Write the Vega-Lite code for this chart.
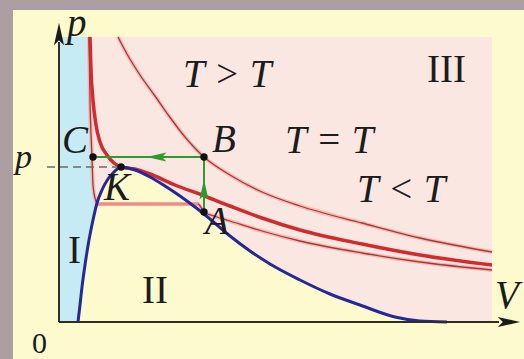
{
  "$schema": "https://vega.github.io/schema/vega-lite/v6.json",
  "width": 524,
  "height": 359,
  "padding": 0,
  "autosize": {"type": "none"},
  "background": "#ad9fa1",
  "config": {"view": {"stroke": null}, "text": {"font": "Liberation Serif", "color": "#1c1c1c"}},
  "datasets": {
    "panel": [{"V": -4.6, "p": 31.2, "V2": 47, "p2": -4}],
    "regions": [
      {"region": "III", "V": 3.0, "p": 11.8},
      {"region": "III", "V": 3.9, "p": 11.9},
      {"region": "III", "V": 4.3, "p": 13.2},
      {"region": "III", "V": 4.9, "p": 14.3},
      {"region": "III", "V": 5.5, "p": 15.0},
      {"region": "III", "V": 6.2, "p": 15.5},
      {"region": "III", "V": 7.6, "p": 15.2},
      {"region": "III", "V": 9.1, "p": 14.5},
      {"region": "III", "V": 10.6, "p": 13.6},
      {"region": "III", "V": 12.1, "p": 12.6},
      {"region": "III", "V": 13.6, "p": 11.5},
      {"region": "III", "V": 15.1, "p": 10.3},
      {"region": "III", "V": 17.1, "p": 8.6},
      {"region": "III", "V": 19.1, "p": 7.1},
      {"region": "III", "V": 21.1, "p": 5.8},
      {"region": "III", "V": 24.1, "p": 4.2},
      {"region": "III", "V": 27.1, "p": 2.8},
      {"region": "III", "V": 30.1, "p": 1.7},
      {"region": "III", "V": 33.6, "p": 0.5},
      {"region": "III", "V": 36.1, "p": 0.1},
      {"region": "III", "V": 38.8, "p": 0},
      {"region": "III", "V": 43.3, "p": 0},
      {"region": "I", "V": 3.0, "p": 28.5},
      {"region": "I", "V": 3.1, "p": 22.2},
      {"region": "I", "V": 3.3, "p": 16.5},
      {"region": "I", "V": 3.4, "p": 13.7},
      {"region": "I", "V": 3.6, "p": 12.4},
      {"region": "I", "V": 3.8, "p": 11.9},
      {"region": "I", "V": 3.4, "p": 10.2},
      {"region": "I", "V": 3.0, "p": 8.2},
      {"region": "I", "V": 2.6, "p": 5.7},
      {"region": "I", "V": 2.3, "p": 3.5},
      {"region": "I", "V": 2.1, "p": 1.7},
      {"region": "I", "V": 1.9, "p": 0}
    ],
    "curves": [
      {"curve": "binodal", "V": 1.9, "p": 0},
      {"curve": "binodal", "V": 2.1, "p": 1.7},
      {"curve": "binodal", "V": 2.3, "p": 3.5},
      {"curve": "binodal", "V": 2.6, "p": 5.7},
      {"curve": "binodal", "V": 3.0, "p": 8.2},
      {"curve": "binodal", "V": 3.4, "p": 10.2},
      {"curve": "binodal", "V": 3.8, "p": 11.9},
      {"curve": "binodal", "V": 4.3, "p": 13.2},
      {"curve": "binodal", "V": 4.9, "p": 14.3},
      {"curve": "binodal", "V": 5.5, "p": 15.0},
      {"curve": "binodal", "V": 6.2, "p": 15.5},
      {"curve": "binodal", "V": 7.6, "p": 15.2},
      {"curve": "binodal", "V": 9.1, "p": 14.5},
      {"curve": "binodal", "V": 10.6, "p": 13.6},
      {"curve": "binodal", "V": 12.1, "p": 12.6},
      {"curve": "binodal", "V": 13.6, "p": 11.5},
      {"curve": "binodal", "V": 15.1, "p": 10.3},
      {"curve": "binodal", "V": 17.1, "p": 8.6},
      {"curve": "binodal", "V": 19.1, "p": 7.1},
      {"curve": "binodal", "V": 21.1, "p": 5.8},
      {"curve": "binodal", "V": 24.1, "p": 4.2},
      {"curve": "binodal", "V": 27.1, "p": 2.8},
      {"curve": "binodal", "V": 30.1, "p": 1.7},
      {"curve": "binodal", "V": 33.6, "p": 0.5},
      {"curve": "binodal", "V": 36.1, "p": 0.1},
      {"curve": "binodal", "V": 38.8, "p": 0},
      {"curve": "critical", "V": 3.1, "p": 28.5},
      {"curve": "critical", "V": 3.2, "p": 25.2},
      {"curve": "critical", "V": 3.4, "p": 22.2},
      {"curve": "critical", "V": 3.7, "p": 19.7},
      {"curve": "critical", "V": 4.1, "p": 18.0},
      {"curve": "critical", "V": 4.8, "p": 16.7},
      {"curve": "critical", "V": 5.5, "p": 15.9},
      {"curve": "critical", "V": 6.2, "p": 15.5},
      {"curve": "critical", "V": 7.6, "p": 15.3},
      {"curve": "critical", "V": 9.1, "p": 14.8},
      {"curve": "critical", "V": 11.6, "p": 13.7},
      {"curve": "critical", "V": 14.3, "p": 12.7},
      {"curve": "critical", "V": 17.1, "p": 11.6},
      {"curve": "critical", "V": 20.3, "p": 10.4},
      {"curve": "critical", "V": 24.1, "p": 9.2},
      {"curve": "critical", "V": 30.3, "p": 7.8},
      {"curve": "critical", "V": 36.1, "p": 6.7},
      {"curve": "critical", "V": 43.3, "p": 5.7},
      {"curve": "hot", "V": 5.9, "p": 28.5},
      {"curve": "hot", "V": 6.8, "p": 26.8},
      {"curve": "hot", "V": 8.1, "p": 24.7},
      {"curve": "hot", "V": 9.6, "p": 22.6},
      {"curve": "hot", "V": 11.0, "p": 20.6},
      {"curve": "hot", "V": 12.6, "p": 18.5},
      {"curve": "hot", "V": 14.5, "p": 16.5},
      {"curve": "hot", "V": 17.1, "p": 14.7},
      {"curve": "hot", "V": 20.3, "p": 13.0},
      {"curve": "hot", "V": 24.1, "p": 11.6},
      {"curve": "hot", "V": 30.3, "p": 9.9},
      {"curve": "hot", "V": 36.1, "p": 8.4},
      {"curve": "hot", "V": 43.3, "p": 7.0},
      {"curve": "cold", "V": 3.0, "p": 28.5},
      {"curve": "cold", "V": 3.1, "p": 22.2},
      {"curve": "cold", "V": 3.3, "p": 16.5},
      {"curve": "cold", "V": 3.4, "p": 13.7},
      {"curve": "cold", "V": 3.6, "p": 12.4},
      {"curve": "cold", "V": 3.9, "p": 11.8},
      {"curve": "cold", "V": 13.9, "p": 11.8},
      {"curve": "cold", "V": 14.5, "p": 11.0},
      {"curve": "cold", "V": 15.5, "p": 10.6},
      {"curve": "cold", "V": 17.1, "p": 10.1},
      {"curve": "cold", "V": 20.3, "p": 9.1},
      {"curve": "cold", "V": 24.1, "p": 8.1},
      {"curve": "cold", "V": 30.3, "p": 6.9},
      {"curve": "cold", "V": 36.1, "p": 6.0},
      {"curve": "cold", "V": 43.3, "p": 5.2}
    ],
    "tie": [{"V": 3.9, "p": 11.8}, {"V": 13.9, "p": 11.8}],
    "level": [{"V": -1.2, "p": 15.5}, {"V": 6.2, "p": 15.5}],
    "process": [
      {"step": 0, "V": 14.5, "p": 11.0},
      {"step": 1, "V": 14.5, "p": 16.5},
      {"step": 2, "V": 3.4, "p": 16.5}
    ],
    "axes": [
      {"axis": "p", "V": 0, "p": 0},
      {"axis": "p", "V": 0, "p": 28.0},
      {"axis": "V", "V": 0, "p": 0},
      {"axis": "V", "V": 44.0, "p": 0}
    ],
    "heads": [
      {"role": "axis", "dir": "up", "V": 0, "p": 28.8},
      {"role": "axis", "dir": "right", "V": 45.0, "p": 0},
      {"role": "flow", "dir": "left", "V": 9.75, "p": 16.5},
      {"role": "flow", "dir": "up", "V": 14.5, "p": 13.25}
    ],
    "states": [
      {"state": "A", "V": 14.5, "p": 11.0},
      {"state": "B", "V": 14.5, "p": 16.5},
      {"state": "C", "V": 3.4, "p": 16.5},
      {"state": "K", "V": 6.2, "p": 15.5}
    ],
    "labels": [
      {"text": "p", "V": 0.8, "p": 28.6, "kind": "symbol"},
      {"text": "C", "V": 0.3, "p": 16.9, "kind": "symbol"},
      {"text": "B", "V": 15.3, "p": 17.0, "kind": "symbol"},
      {"text": "K", "V": 4.5, "p": 12.2, "kind": "symbol"},
      {"text": "A", "V": 14.6, "p": 8.8, "kind": "symbol"},
      {"text": "T > T", "V": 12.4, "p": 23.5, "kind": "symbol"},
      {"text": "T = T", "V": 22.6, "p": 16.9, "kind": "symbol"},
      {"text": "T < T", "V": 29.8, "p": 12.0, "kind": "symbol"},
      {"text": "V", "V": 43.6, "p": 1.4, "kind": "symbol"},
      {"text": "p", "V": -4.4, "p": 15.4, "kind": "level"},
      {"text": "III", "V": 36.8, "p": 24.0, "kind": "region"},
      {"text": "I", "V": 0.9, "p": 5.9, "kind": "region"},
      {"text": "II", "V": 8.3, "p": 1.9, "kind": "region"},
      {"text": "0", "V": -2.7, "p": -3.1, "kind": "origin"}
    ]
  },
  "encoding": {
    "x": {"field": "V", "type": "quantitative", "scale": {"domain": [-5.9, 46.5], "nice": false, "zero": false}, "axis": null},
    "y": {"field": "p", "type": "quantitative", "scale": {"domain": [-3.7, 32.2], "nice": false, "zero": false}, "axis": null}
  },
  "layer": [
    {
      "data": {"name": "panel"},
      "mark": {"type": "rect", "fill": "#fdfbce"},
      "encoding": {"x2": {"field": "V2"}, "y2": {"field": "p2"}}
    },
    {
      "data": {"name": "regions"},
      "transform": [{"filter": "datum.region === 'III'"}],
      "mark": {"type": "area", "fill": "#fbe7e1", "interpolate": "monotone"},
      "encoding": {"y2": {"datum": 28.5}}
    },
    {
      "data": {"name": "regions"},
      "transform": [{"filter": "datum.region === 'I'"}],
      "mark": {"type": "area", "orient": "horizontal", "fill": "#c6ebf5", "interpolate": "monotone"},
      "encoding": {"x2": {"datum": 0}}
    },
    {
      "data": {"name": "curves"},
      "transform": [{"filter": "datum.curve === 'hot' || datum.curve === 'cold'"}],
      "mark": {"type": "line", "stroke": "#f3a7a2", "strokeWidth": 4, "opacity": 0.7, "interpolate": "monotone"},
      "encoding": {"detail": {"field": "curve"}}
    },
    {
      "data": {"name": "curves"},
      "transform": [{"filter": "datum.curve === 'hot' || datum.curve === 'cold'"}],
      "mark": {"type": "line", "stroke": "#a8383c", "strokeWidth": 1.3, "interpolate": "monotone"},
      "encoding": {"detail": {"field": "curve"}}
    },
    {
      "data": {"name": "tie"},
      "mark": {"type": "line", "stroke": "#ef8a84", "strokeWidth": 3},
      "encoding": {}
    },
    {
      "data": {"name": "curves"},
      "transform": [{"filter": "datum.curve === 'critical'"}],
      "mark": {"type": "line", "stroke": "#d22b2e", "strokeWidth": 3.5, "interpolate": "monotone"},
      "encoding": {}
    },
    {
      "data": {"name": "curves"},
      "transform": [{"filter": "datum.curve === 'binodal'"}],
      "mark": {"type": "line", "stroke": "#24289a", "strokeWidth": 3, "interpolate": "monotone"},
      "encoding": {}
    },
    {
      "data": {"name": "level"},
      "mark": {"type": "line", "stroke": "#6b6b66", "strokeWidth": 1.5, "strokeDash": [8, 5]},
      "encoding": {}
    },
    {
      "data": {"name": "process"},
      "mark": {"type": "line", "stroke": "#2c9a2c", "strokeWidth": 2},
      "encoding": {"order": {"field": "step"}}
    },
    {
      "data": {"name": "axes"},
      "mark": {"type": "line", "stroke": "#2e2e24", "strokeWidth": 2},
      "encoding": {"detail": {"field": "axis"}}
    },
    {
      "data": {"name": "heads"},
      "transform": [{"filter": "datum.role === 'axis'"}],
      "mark": {"type": "point", "filled": true, "color": "#1a1a16", "size": 500, "opacity": 1},
      "encoding": {
        "shape": {"field": "dir", "type": "nominal", "legend": null,
          "scale": {"domain": ["up", "left", "right"], "range": ["M0,-1L0.45,1L0,0.55L-0.45,1Z", "M-1,0L1,-0.45L0.55,0L1,0.45Z", "M1,0L-1,-0.45L-0.55,0L-1,0.45Z"]}}
      }
    },
    {
      "data": {"name": "heads"},
      "transform": [{"filter": "datum.role === 'flow'"}],
      "mark": {"type": "point", "filled": true, "color": "#2c9a2c", "size": 400, "opacity": 1},
      "encoding": {
        "shape": {"field": "dir", "type": "nominal", "legend": null}
      }
    },
    {
      "data": {"name": "states"},
      "mark": {"type": "circle", "color": "#111111", "size": 55, "opacity": 1},
      "encoding": {}
    },
    {
      "data": {"name": "labels"},
      "transform": [{"filter": "datum.kind === 'symbol'"}],
      "mark": {"type": "text", "align": "left", "baseline": "alphabetic", "fontSize": 39, "fontStyle": "italic"},
      "encoding": {"text": {"field": "text"}}
    },
    {
      "data": {"name": "labels"},
      "transform": [{"filter": "datum.kind === 'level'"}],
      "mark": {"type": "text", "align": "left", "baseline": "alphabetic", "fontSize": 34, "fontStyle": "italic"},
      "encoding": {"text": {"field": "text"}}
    },
    {
      "data": {"name": "labels"},
      "transform": [{"filter": "datum.kind === 'region'"}],
      "mark": {"type": "text", "align": "left", "baseline": "alphabetic", "fontSize": 39},
      "encoding": {"text": {"field": "text"}}
    },
    {
      "data": {"name": "labels"},
      "transform": [{"filter": "datum.kind === 'origin'"}],
      "mark": {"type": "text", "align": "left", "baseline": "alphabetic", "fontSize": 30},
      "encoding": {"text": {"field": "text"}}
    }
  ]
}
